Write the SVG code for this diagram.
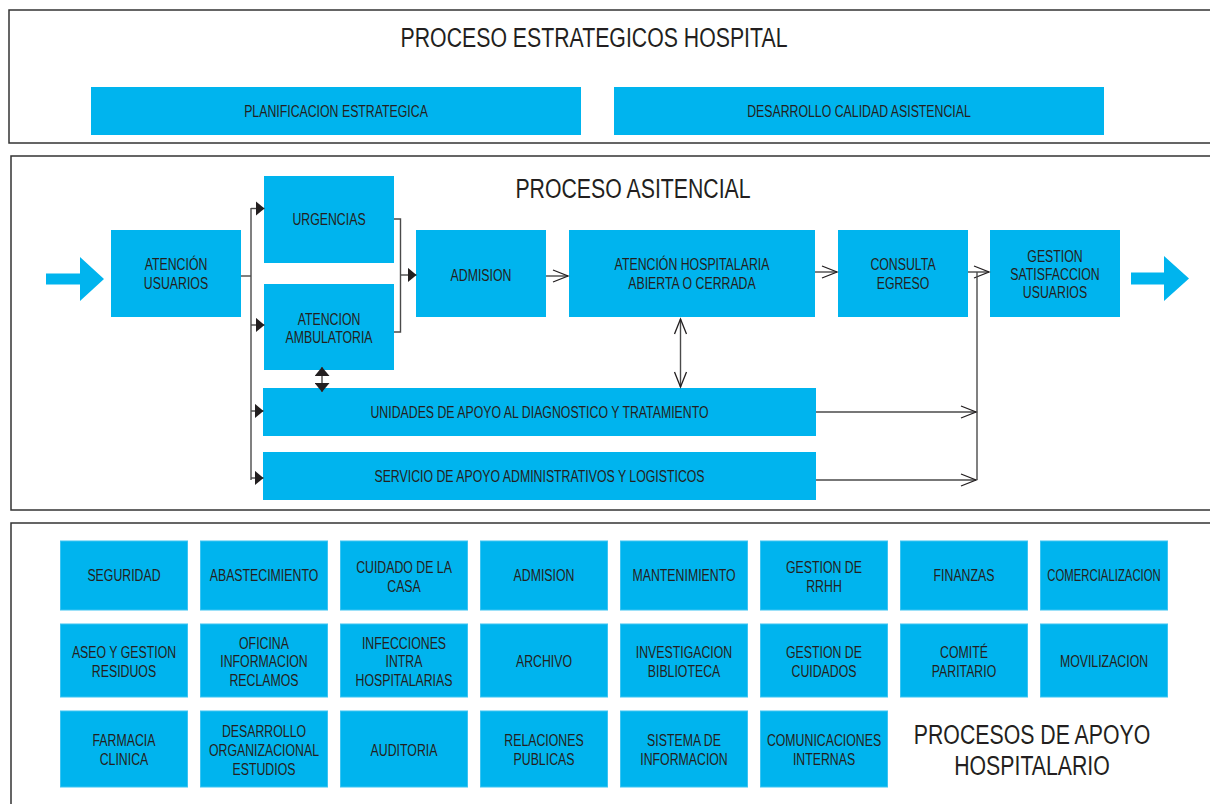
<svg xmlns="http://www.w3.org/2000/svg" width="1210" height="804" viewBox="0 0 1210 804">
<style>
.frame{fill:none;stroke:#333;stroke-width:1.5}
.box{fill:#00B4EE}
.gbox{fill:#00B4EE;stroke:#3cc4f2;stroke-width:1}
.t{font-family:"Liberation Sans",Arial,sans-serif;font-size:16px;fill:#231F20;text-anchor:middle}
.h{font-family:"Liberation Sans",Arial,sans-serif;font-size:28px;fill:#231F20;text-anchor:middle}
.ln{fill:none;stroke:#4a4a4a;stroke-width:1.4}
.big{fill:#00B4EE}
</style>
<defs>
<marker id="tri" markerUnits="userSpaceOnUse" viewBox="0 0 9 15" refX="9" refY="7.5" markerWidth="9" markerHeight="15" orient="auto-start-reverse">
<path d="M0,0 L9,7.5 L0,15 Z" fill="#231F20"/>
</marker>
<marker id="open" markerUnits="userSpaceOnUse" viewBox="-1 -1 17 14" refX="15" refY="6" markerWidth="17" markerHeight="14" orient="auto-start-reverse" overflow="visible">
<path d="M0,0 L15,6 L0,12" fill="none" stroke="#231F20" stroke-width="1.3"/>
</marker>
</defs>

<!-- frames -->
<rect class="frame" x="9" y="10" width="1220" height="133"/>
<rect class="frame" x="11" y="156" width="1220" height="354"/>
<rect class="frame" x="11" y="523" width="1220" height="300"/>

<text class="h" transform="translate(594 0) scale(.76 1)"><tspan x="0" y="47">PROCESO ESTRATEGICOS HOSPITAL</tspan></text>
<text class="h" transform="translate(633 0) scale(.76 1)"><tspan x="0" y="198">PROCESO ASITENCIAL</tspan></text>
<text class="h" transform="translate(1032 0) scale(.76 1)"><tspan x="0" y="744">PROCESOS DE APOYO</tspan><tspan x="0" y="775">HOSPITALARIO</tspan></text>

<!-- strategic -->
<g id="planificacion"><rect class="box" x="91" y="87" width="490" height="48"/><text class="t" transform="translate(336 0) scale(.77 1)"><tspan x="0" y="117">PLANIFICACION ESTRATEGICA</tspan></text></g>
<g id="desarrollo-calidad"><rect class="box" x="614" y="87" width="490" height="48"/><text class="t" transform="translate(859 0) scale(.77 1)"><tspan x="0" y="117">DESARROLLO CALIDAD ASISTENCIAL</tspan></text></g>

<!-- big arrows -->
<path class="big" d="M46,273.5 H80 V257 L104,279 L80,301 V284.5 H46 Z"/>
<path class="big" d="M1131,272.5 H1164 V256 L1189,278.5 L1164,301 V284.5 H1131 Z"/>

<!-- assistance nodes -->
<g id="atencion-usuarios"><rect class="box" x="111" y="230" width="130" height="87"/><text class="t" transform="translate(176 0) scale(.77 1)"><tspan x="0" y="270.5">ATENCIÓN</tspan><tspan x="0" y="289">USUARIOS</tspan></text></g>
<g id="urgencias"><rect class="box" x="264" y="176" width="130" height="87"/><text class="t" transform="translate(329 0) scale(.77 1)"><tspan x="0" y="225">URGENCIAS</tspan></text></g>
<g id="ambulatoria"><rect class="box" x="264" y="284" width="130" height="86"/><text class="t" transform="translate(329 0) scale(.77 1)"><tspan x="0" y="325">ATENCION</tspan><tspan x="0" y="343">AMBULATORIA</tspan></text></g>
<g id="admision"><rect class="box" x="416" y="230" width="130" height="87"/><text class="t" transform="translate(481 0) scale(.77 1)"><tspan x="0" y="281">ADMISION</tspan></text></g>
<g id="atencion-hospitalaria"><rect class="box" x="569" y="230" width="246" height="87"/><text class="t" transform="translate(692 0) scale(.77 1)"><tspan x="0" y="270.5">ATENCIÓN HOSPITALARIA</tspan><tspan x="0" y="289">ABIERTA O CERRADA</tspan></text></g>
<g id="consulta-egreso"><rect class="box" x="838" y="230" width="130" height="87"/><text class="t" transform="translate(903 0) scale(.77 1)"><tspan x="0" y="270.5">CONSULTA</tspan><tspan x="0" y="289">EGRESO</tspan></text></g>
<g id="gestion-satisfaccion"><rect class="box" x="990" y="230" width="130" height="87"/><text class="t" transform="translate(1055 0) scale(.77 1)"><tspan x="0" y="261.7">GESTION</tspan><tspan x="0" y="280.3">SATISFACCION</tspan><tspan x="0" y="298.5">USUARIOS</tspan></text></g>
<g id="unidades-apoyo"><rect class="box" x="263" y="388" width="553" height="48"/><text class="t" transform="translate(539.5 0) scale(.77 1)"><tspan x="0" y="418">UNIDADES DE APOYO AL DIAGNOSTICO Y TRATAMIENTO</tspan></text></g>
<g id="servicio-apoyo"><rect class="box" x="263" y="452" width="553" height="48"/><text class="t" transform="translate(539.5 0) scale(.77 1)"><tspan x="0" y="482.5">SERVICIO DE APOYO ADMINISTRATIVOS Y LOGISTICOS</tspan></text></g>

<!-- connectors -->
<g id="connectors">
<path class="ln" d="M241,276 H251"/>
<path class="ln" d="M251,208 V480"/>
<path class="ln" d="M251,208.5 H264.5" marker-end="url(#tri)"/>
<path class="ln" d="M251,325 H264.5" marker-end="url(#tri)"/>
<path class="ln" d="M251,411 H263.5" marker-end="url(#tri)"/>
<path class="ln" d="M251,478 H263.5" marker-end="url(#tri)"/>
<path class="ln" d="M394,219 H400.5 V332 H394"/>
<path class="ln" d="M400.5,275 H416.5" marker-end="url(#tri)"/>
<path class="ln" d="M322,367 V392" marker-start="url(#tri)" marker-end="url(#tri)"/>
<path class="ln" d="M546,276 H568" marker-end="url(#open)"/>
<path class="ln" d="M815,272 H837" marker-end="url(#open)"/>
<path class="ln" d="M968,272 H989" marker-end="url(#open)"/>
<path class="ln" d="M977,272 V480"/>
<path class="ln" d="M680.5,319 V387" marker-start="url(#open)" marker-end="url(#open)"/>
<path class="ln" d="M816,412 H976" marker-end="url(#open)"/>
<path class="ln" d="M816,480 H976" marker-end="url(#open)"/>
</g>

<!-- support grid -->
<g id="seguridad"><rect class="gbox" x="60.5" y="541" width="127" height="69"/><text class="t" transform="translate(124 0) scale(.77 1)"><tspan x="0" y="581.5">SEGURIDAD</tspan></text></g>
<g id="abastecimiento"><rect class="gbox" x="200.5" y="541" width="127" height="69"/><text class="t" transform="translate(264 0) scale(.77 1)"><tspan x="0" y="581.5">ABASTECIMIENTO</tspan></text></g>
<g id="cuidado-casa"><rect class="gbox" x="340.5" y="541" width="127" height="69"/><text class="t" transform="translate(404 0) scale(.77 1)"><tspan x="0" y="572.7">CUIDADO DE LA</tspan><tspan x="0" y="591.7">CASA</tspan></text></g>
<g id="admision-apoyo"><rect class="gbox" x="480.5" y="541" width="127" height="69"/><text class="t" transform="translate(544 0) scale(.77 1)"><tspan x="0" y="581.5">ADMISION</tspan></text></g>
<g id="mantenimiento"><rect class="gbox" x="620.5" y="541" width="127" height="69"/><text class="t" transform="translate(684 0) scale(.77 1)"><tspan x="0" y="581.5">MANTENIMIENTO</tspan></text></g>
<g id="gestion-rrhh"><rect class="gbox" x="760.5" y="541" width="127" height="69"/><text class="t" transform="translate(824 0) scale(.77 1)"><tspan x="0" y="572.7">GESTION DE</tspan><tspan x="0" y="591.7">RRHH</tspan></text></g>
<g id="finanzas"><rect class="gbox" x="900.5" y="541" width="127" height="69"/><text class="t" transform="translate(964 0) scale(.77 1)"><tspan x="0" y="581.5">FINANZAS</tspan></text></g>
<g id="comercializacion"><rect class="gbox" x="1040.5" y="541" width="127" height="69"/><text class="t" transform="translate(1104 0) scale(.71 1)"><tspan x="0" y="581.5">COMERCIALIZACION</tspan></text></g>

<g id="aseo"><rect class="gbox" x="60.5" y="624" width="127" height="73"/><text class="t" transform="translate(124 0) scale(.77 1)"><tspan x="0" y="657.7">ASEO Y GESTION</tspan><tspan x="0" y="676.7">RESIDUOS</tspan></text></g>
<g id="oficina"><rect class="gbox" x="200.5" y="624" width="127" height="73"/><text class="t" transform="translate(264 0) scale(.77 1)"><tspan x="0" y="648.7">OFICINA</tspan><tspan x="0" y="667.2">INFORMACION</tspan><tspan x="0" y="685.7">RECLAMOS</tspan></text></g>
<g id="infecciones"><rect class="gbox" x="340.5" y="624" width="127" height="73"/><text class="t" transform="translate(404 0) scale(.77 1)"><tspan x="0" y="648.7">INFECCIONES</tspan><tspan x="0" y="667.2">INTRA</tspan><tspan x="0" y="685.7">HOSPITALARIAS</tspan></text></g>
<g id="archivo"><rect class="gbox" x="480.5" y="624" width="127" height="73"/><text class="t" transform="translate(544 0) scale(.77 1)"><tspan x="0" y="666.7">ARCHIVO</tspan></text></g>
<g id="investigacion"><rect class="gbox" x="620.5" y="624" width="127" height="73"/><text class="t" transform="translate(684 0) scale(.77 1)"><tspan x="0" y="657.7">INVESTIGACION</tspan><tspan x="0" y="676.7">BIBLIOTECA</tspan></text></g>
<g id="gestion-cuidados"><rect class="gbox" x="760.5" y="624" width="127" height="73"/><text class="t" transform="translate(824 0) scale(.77 1)"><tspan x="0" y="657.7">GESTION DE</tspan><tspan x="0" y="676.7">CUIDADOS</tspan></text></g>
<g id="comite"><rect class="gbox" x="900.5" y="624" width="127" height="73"/><text class="t" transform="translate(964 0) scale(.77 1)"><tspan x="0" y="657.7">COMITÉ</tspan><tspan x="0" y="676.7">PARITARIO</tspan></text></g>
<g id="movilizacion"><rect class="gbox" x="1040.5" y="624" width="127" height="73"/><text class="t" transform="translate(1104 0) scale(.77 1)"><tspan x="0" y="666.7">MOVILIZACION</tspan></text></g>

<g id="farmacia"><rect class="gbox" x="60.5" y="711" width="127" height="76"/><text class="t" transform="translate(124 0) scale(.77 1)"><tspan x="0" y="746.3">FARMACIA</tspan><tspan x="0" y="764.7">CLINICA</tspan></text></g>
<g id="desarrollo-org"><rect class="gbox" x="200.5" y="711" width="127" height="76"/><text class="t" transform="translate(264 0) scale(.77 1)"><tspan x="0" y="736.7">DESARROLLO</tspan><tspan x="0" y="755.7">ORGANIZACIONAL</tspan><tspan x="0" y="774.7">ESTUDIOS</tspan></text></g>
<g id="auditoria"><rect class="gbox" x="340.5" y="711" width="127" height="76"/><text class="t" transform="translate(404 0) scale(.77 1)"><tspan x="0" y="755.7">AUDITORIA</tspan></text></g>
<g id="relaciones"><rect class="gbox" x="480.5" y="711" width="127" height="76"/><text class="t" transform="translate(544 0) scale(.77 1)"><tspan x="0" y="746.3">RELACIONES</tspan><tspan x="0" y="764.7">PUBLICAS</tspan></text></g>
<g id="sistema-info"><rect class="gbox" x="620.5" y="711" width="127" height="76"/><text class="t" transform="translate(684 0) scale(.77 1)"><tspan x="0" y="746.3">SISTEMA DE</tspan><tspan x="0" y="764.7">INFORMACION</tspan></text></g>
<g id="comunicaciones"><rect class="gbox" x="760.5" y="711" width="127" height="76"/><text class="t" transform="translate(824 0) scale(.77 1)"><tspan x="0" y="746.3">COMUNICACIONES</tspan><tspan x="0" y="764.7">INTERNAS</tspan></text></g>
</svg>
